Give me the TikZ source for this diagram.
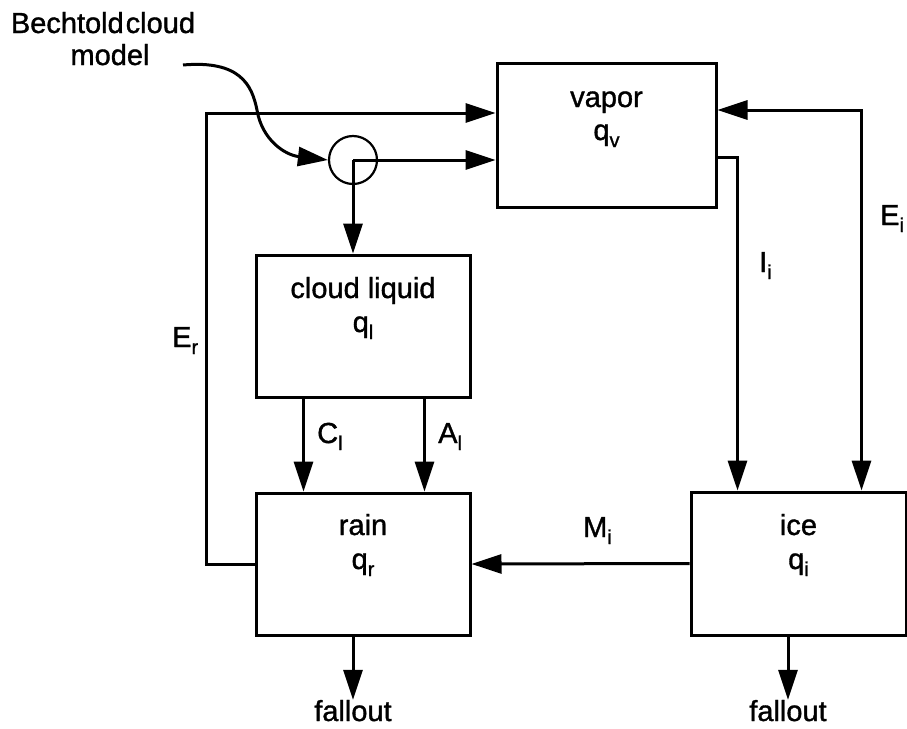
\documentclass[tikz,border=0pt]{standalone}
\usepackage{fontspec}
\setmainfont{Liberation Sans}[FakeBold=1.2]
\usetikzlibrary{arrows.meta,calc}
\newcommand\lsub[1]{\raisebox{-7pt}{\fontsize{20}{20}\selectfont #1}}
\begin{document}
\begin{tikzpicture}[x=1pt,y=-1pt,
  box/.style={draw, line width=3pt, inner sep=0pt},
  lbl/.style={inner sep=0pt, font=\fontsize{29}{32}\selectfont, anchor=base},
  lblw/.style={lbl, anchor=base west},
  conn/.style={line width=3pt},
  arr/.style={conn, -{Triangle[length=30pt,width=19pt]}},
  arrb/.style={conn, {Triangle[length=30pt,width=19pt]}-{Triangle[length=30pt,width=19pt]}}]
\useasboundingbox (0,0) rectangle (907,728);
% boxes
\node[box, minimum width=219pt, minimum height=144pt] (vapor) at (606.5,135) {};
\node[box, minimum width=214pt, minimum height=142pt] (liquid) at (363,326) {};
\node[box, minimum width=214pt, minimum height=142pt] (rain) at (363,564) {};
\node[box, minimum width=215pt, minimum height=143pt] (ice) at (798.5,563.5) {};
\node[draw, circle, line width=2.2pt, minimum size=48pt, inner sep=0pt] (mix) at (353,160) {};
% box texts
\node[lbl] (vapt) at (606.5,107) {vapor};
\node[lbl] (vaps) at (606.5,140) {q\lsub{v}};
\node[lbl] (liqt) at (363,298) {cloud liquid};
\node[lbl] (liqs) at (363,332) {q\lsub{l}};
\node[lbl] (raint) at (363,535) {rain};
\node[lbl] (rains) at (363,569) {q\lsub{r}};
\node[lbl] (icet) at (798.5,535) {ice};
\node[lbl] (ices) at (798.5,569) {q\lsub{i}};
% other texts
\node[lbl] (bech1) at (103,33) {Bechtold\hspace{2pt}cloud};
\node[lbl] (bech2) at (110,65) {model};
\node[lblw] (Er) at (172,347) {E\lsub{r}};
\node[lblw] (Cl) at (317,443) {C\lsub{l}};
\node[lblw] (Al) at (438,443) {A\lsub{l}};
\node[lblw] (Mi) at (583,537) {M\lsub{i}};
\node[lblw] (Ii) at (759,272) {I\lsub{i}};
\node[lblw] (Ei) at (880,225) {E\lsub{i}};
\node[lbl] (fall1) at (353,721) {fallout};
\node[lbl] (fall2) at (788,721) {fallout};
% connectors
\coordinate (bstart) at (183,65);
\draw[arr] (bstart) .. controls (240,60) and (252,85) .. (257,110)
  .. controls (262,140) and (285,155) .. (mix.west);
\draw[arr] (mix.center) -- (vapor.west |- mix.center);
\draw[arr] (mix.center) -- (mix.center |- liquid.north);
\draw[arr] (rain.west) -- ++(-48,0) |- ($(vapor.west)+(0,-22)$);
\draw[arr] ($(vapor.east)+(0,22)$) -| ($(ice.north west)+(48,0)$);
\draw[arrb] ($(vapor.east)+(0,-25)$) -| ($(ice.north east)+(-46,0)$);
\draw[arr] ($(liquid.south west)+(49,0)$) -- ($(rain.north west)+(49,0)$);
\draw[arr] ($(liquid.south west)+(170,0)$) -- ($(rain.north west)+(170,0)$);
\draw[arr] (ice.west) -- (rain.east);
\draw[arr] (rain.south -| fall1.north) -- (fall1.north);
\draw[arr] (ice.south -| fall2.north) -- (fall2.north);
\end{tikzpicture}
\end{document}
